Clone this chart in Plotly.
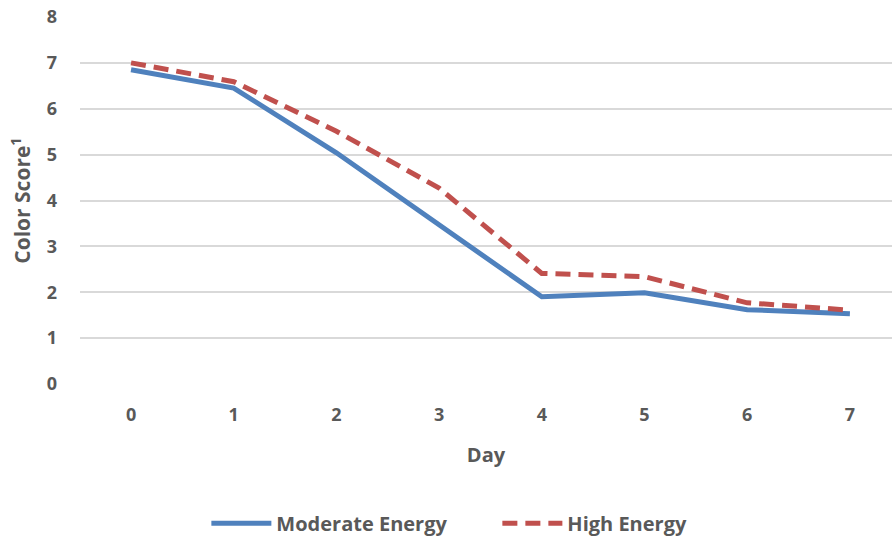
import plotly.graph_objects as go

days = ["0", "1", "2", "3", "4", "5", "6", "7"]
moderate = [6.85, 6.45, 5.04, 3.46, 1.90, 1.99, 1.62, 1.53]
high = [7.0, 6.59, 5.51, 4.27, 2.41, 2.34, 1.77, 1.61]
y_ticks = [0, 1, 2, 3, 4, 5, 6, 7, 8]

FONT = "Open Sans"
GRAY = "#595959"

fig = go.Figure()
fig.add_trace(go.Scatter(x=days, y=moderate, mode="lines", name="Moderate Energy",
                         line=dict(color="#4f81bd", width=5)))
fig.add_trace(go.Scatter(x=days, y=high, mode="lines", name="High Energy",
                         line=dict(color="#c0504d", width=5, dash="15px,8px")))

fig.update_layout(
    width=892, height=541,
    margin=dict(l=80, r=0, t=17, b=157),
    plot_bgcolor="white", paper_bgcolor="white",
    font=dict(family=FONT, color=GRAY, size=18),
    xaxis=dict(type="category", range=[-0.497, 7.41], showgrid=False, zeroline=False,
               showline=False, ticks="", ticklabelstandoff=18, automargin=False,
               tickfont=dict(family=FONT, size=18, color=GRAY, weight="bold"),
               title=dict(text="Day", font=dict(family=FONT, size=20, color=GRAY, weight="bold"),
                          standoff=22)),
    yaxis=dict(range=[0, 8], tickvals=y_ticks, showgrid=True, gridcolor="#d9d9d9",
               gridwidth=1.5, zeroline=False, showline=False, ticks="",
               ticklabelstandoff=22, automargin=False,
               tickfont=dict(family=FONT, size=18, color=GRAY, weight="bold"),
               title=dict(text="Color Score<sup>1</sup>",
                          font=dict(family=FONT, size=21, color=GRAY, weight="bold"),
                          standoff=10)),
    legend=dict(orientation="h", x=0.514, xanchor="center",
                yref="container", y=0.033, yanchor="middle",
                font=dict(family=FONT, size=20, color=GRAY, weight="bold"),
                entrywidth=216, itemwidth=60),
    showlegend=True,
)

fig.write_html("out.html")
